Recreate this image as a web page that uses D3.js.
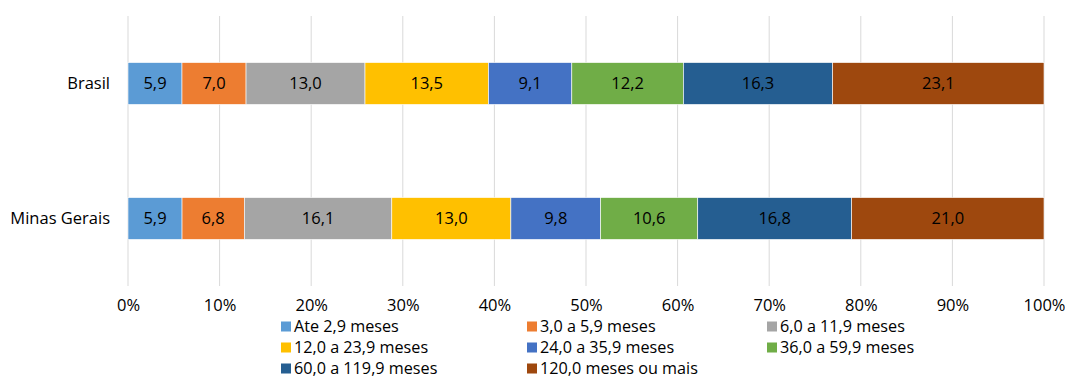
<!DOCTYPE html>
<html>
<head>
<meta charset="utf-8">
<script src="https://cdn.jsdelivr.net/npm/d3@7"></script>
<style>
  body { margin: 0; background: #fff; }
  svg { display: block; font-family: "Open Sans", sans-serif; }
</style>
</head>
<body>
<svg id="chart" width="1065" height="379"></svg>
<script>
// Regions and duration bands
const regions = ["Brasil", "Minas Gerais"];
const bands = [
  "Ate 2,9 meses", "3,0 a 5,9 meses", "6,0 a 11,9 meses", "12,0 a 23,9 meses",
  "24,0 a 35,9 meses", "36,0 a 59,9 meses", "60,0 a 119,9 meses", "120,0 meses ou mais"
];
// Share (%) in each band, per region
const brasilValues = [5.9, 7.0, 13.0, 13.5, 9.1, 12.2, 16.3, 23.1];
const minasValues  = [5.9, 6.8, 16.1, 13.0, 9.8, 10.6, 16.8, 21.0];
const bandColors = ["#5B9BD5", "#ED7D31", "#A5A5A5", "#FFC000", "#4472C4", "#70AD47", "#255E91", "#9E480E"];
const tickValues = [0, 0.1, 0.2, 0.3, 0.4, 0.5, 0.6, 0.7, 0.8, 0.9, 1.0];

const seriesByRegion = { "Brasil": brasilValues, "Minas Gerais": minasValues };

const FONT = "'Open Sans', sans-serif";
const FS = 16.5;
const LEGEND_FS = 16.2;

const svg = d3.select("#chart");
const x = d3.scaleLinear().domain([0, 1]).range([128, 1044]);
const y = d3.scaleBand().domain(regions).range([16, 286]).paddingInner(0.69).paddingOuter(0.345);
const color = d3.scaleOrdinal().domain(bands).range(bandColors);
const fmt = v => d3.format(".1f")(v).replace(".", ",");

// Vertical gridlines
svg.append("g").selectAll("line").data(tickValues).join("line")
  .attr("x1", d => x(d)).attr("x2", d => x(d))
  .attr("y1", 16).attr("y2", 286)
  .attr("stroke", "#d9d9d9").attr("stroke-width", 1);

// X axis labels
const xAxis = d3.axisBottom(x).tickValues(tickValues).tickFormat(d3.format(".0%")).tickSize(0).tickPadding(0);
const gx = svg.append("g").attr("transform", "translate(0,299.5)").call(xAxis);
gx.select(".domain").remove();
gx.selectAll("text").attr("font-size", FS).attr("fill", "#000").style("font-family", FONT);

// Y axis labels
const yAxis = d3.axisLeft(y).tickSize(0).tickPadding(18);
const gy = svg.append("g").attr("transform", "translate(128,0)").call(yAxis);
gy.select(".domain").remove();
gy.selectAll("text").attr("font-size", FS).attr("fill", "#000").style("font-family", FONT);

// Stacked 100% bars
regions.forEach(region => {
  const vals = seriesByRegion[region];
  const total = d3.sum(vals);
  let acc = 0;
  const segs = vals.map((v, i) => {
    const s = { band: bands[i], value: v, x0: acc / total, x1: (acc + v) / total };
    acc += v;
    return s;
  });
  const g = svg.append("g");
  g.selectAll("rect").data(segs).join("rect")
    .attr("x", d => x(d.x0))
    .attr("width", d => x(d.x1) - x(d.x0))
    .attr("y", y(region))
    .attr("height", y.bandwidth())
    .attr("fill", d => color(d.band))
    .attr("stroke", "#fff").attr("stroke-width", 0.6);
  g.selectAll("text").data(segs).join("text")
    .attr("x", d => (x(d.x0) + x(d.x1)) / 2)
    .attr("y", y(region) + y.bandwidth() / 2)
    .attr("dy", "0.35em")
    .attr("text-anchor", "middle")
    .attr("font-size", FS)
    .attr("fill", "#000")
    .text(d => fmt(d.value));
});

// Legend
const legendCols = [281, 527, 767];
const legendRows = [326.5, 347.5, 368.5];
const legend = svg.append("g").selectAll("g").data(bands).join("g")
  .attr("transform", (d, i) => `translate(${legendCols[i % 3]},${legendRows[Math.floor(i / 3)]})`);
legend.append("rect").attr("x", 0).attr("y", -5).attr("width", 10).attr("height", 10)
  .attr("fill", d => color(d));
legend.append("text").attr("x", 13).attr("y", 0).attr("dy", "0.35em")
  .attr("font-size", LEGEND_FS).attr("fill", "#000").text(d => d);
</script>
</body>
</html>
